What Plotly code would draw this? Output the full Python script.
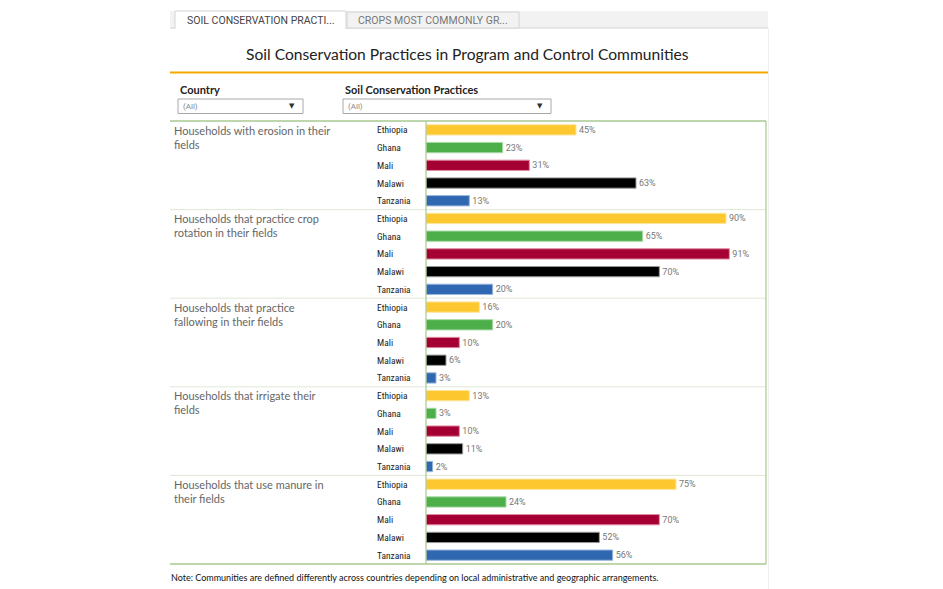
import plotly.graph_objects as go

practices = [
    "Households with erosion in their<br>fields",
    "Households that practice crop<br>rotation in their fields",
    "Households that practice<br>fallowing in their fields",
    "Households that irrigate their<br>fields",
    "Households that use manure in<br>their fields",
]
countries = ["Ethiopia", "Ghana", "Mali", "Malawi", "Tanzania"]
values = {
    "Ethiopia": [45, 90, 16, 13, 75],
    "Ghana":    [23, 65, 20, 3, 24],
    "Mali":     [31, 91, 10, 10, 70],
    "Malawi":   [63, 70, 6, 11, 52],
    "Tanzania": [13, 20, 3, 2, 56],
}
colors = {
    "Ethiopia": "#fdc82f",
    "Ghana": "#4daf4a",
    "Mali": "#a50034",
    "Malawi": "#000000",
    "Tanzania": "#2f67b1",
}
border = {
    "Ethiopia": "#fde59a",
    "Ghana": "#a8d8a6",
    "Mali": "#e08aa2",
    "Malawi": "#999999",
    "Tanzania": "#9bb6dd",
}

W, H = 943, 589
L, R, T, B = 426, 766, 121, 564
nC = len(countries)
nG = len(practices)

def px(x):
    return (x - L) / (R - L)

def py(y):
    return (B - y) / (B - T)

fig = go.Figure()
for ci, c in enumerate(countries):
    ys = [g * nC + ci for g in range(nG)]
    fig.add_trace(go.Bar(
        x=values[c], y=ys, orientation="h",
        marker=dict(color=colors[c], line=dict(color=border[c], width=1)),
        width=0.58,
        text=[f"{v}%" for v in values[c]],
        textposition="outside",
        textfont=dict(size=9, color="#777777", family="Roboto, Arial"),
        cliponaxis=False,
        showlegend=False,
        hoverinfo="skip",
    ))

shapes = []
ann = []
line_green = "#a9c98f"
sep = "#dfe9d6"

# group separators
for g in range(1, nG):
    shapes.append(dict(type="line", xref="paper", yref="y", x0=px(170), x1=1,
                       y0=g * nC - 0.5, y1=g * nC - 0.5, line=dict(color=sep, width=1)))
# top and bottom borders
shapes.append(dict(type="line", xref="paper", yref="paper", x0=px(170), x1=1, y0=1, y1=1,
                   line=dict(color=line_green, width=1.5)))
shapes.append(dict(type="line", xref="paper", yref="paper", x0=px(170), x1=1, y0=0, y1=0,
                   line=dict(color=line_green, width=1.5)))
# vertical axis lines
shapes.append(dict(type="line", xref="paper", yref="paper", x0=0, x1=0, y0=0, y1=1,
                   line=dict(color=line_green, width=1.2)))
shapes.append(dict(type="line", xref="paper", yref="paper", x0=1, x1=1, y0=0, y1=1,
                   line=dict(color=line_green, width=1.2)))
# outer faint edge
shapes.append(dict(type="line", xref="paper", yref="paper", x0=px(768.5), x1=px(768.5), y0=py(28), y1=py(589),
                   line=dict(color="#eeeeee", width=1)))

# tab strip
shapes.append(dict(type="rect", xref="paper", yref="paper", x0=px(170), x1=px(768), y0=py(28), y1=py(11),
                   fillcolor="#f2f2f2", line=dict(width=0), layer="below"))
shapes.append(dict(type="line", xref="paper", yref="paper", x0=px(170), x1=px(768), y0=py(28), y1=py(28),
                   line=dict(color="#d4d4d4", width=1)))
shapes.append(dict(type="rect", xref="paper", yref="paper", x0=px(175), x1=px(346), y0=py(28.5), y1=py(11),
                   fillcolor="#ffffff", line=dict(color="#d4d4d4", width=1)))
shapes.append(dict(type="line", xref="paper", yref="paper", x0=px(175.5), x1=px(345.5), y0=py(28.5), y1=py(28.5),
                   line=dict(color="#ffffff", width=2)))
shapes.append(dict(type="rect", xref="paper", yref="paper", x0=px(347), x1=px(519), y0=py(28), y1=py(12),
                   fillcolor="#f2f2f2", line=dict(color="#d4d4d4", width=1)))
ann.append(dict(text="SOIL CONSERVATION PRACTI...", xref="paper", yref="paper", x=px(260.5), y=py(20),
                xanchor="center", yanchor="middle", showarrow=False,
                font=dict(size=10.5, color="#444444", family="Roboto, Arial")))
ann.append(dict(text="CROPS MOST COMMONLY GR...", xref="paper", yref="paper", x=px(433), y=py(20),
                xanchor="center", yanchor="middle", showarrow=False,
                font=dict(size=10.5, color="#777777", family="Roboto, Arial")))

# title and orange rule
ann.append(dict(text="Soil Conservation Practices in Program and Control Communities", xref="paper", yref="paper",
                x=px(467), y=py(54), xanchor="center", yanchor="middle", showarrow=False,
                font=dict(size=15.6, color="#222222", family="Lato, Noto Sans")))
shapes.append(dict(type="line", xref="paper", yref="paper", x0=px(170), x1=px(768), y0=py(72.5), y1=py(72.5),
                   line=dict(color="#f5a800", width=2.2)))

# filters
for label, x0, x1 in [("Country", 178, 303), ("Soil Conservation Practices", 343, 551)]:
    ann.append(dict(text=f"<b>{label}</b>", xref="paper", yref="paper", x=px(x0), y=py(90),
                    xanchor="left", yanchor="middle", showarrow=False,
                    font=dict(size=11, color="#222222", family="Lato, Noto Sans")))
    shapes.append(dict(type="rect", xref="paper", yref="paper", x0=px(x0), x1=px(x1), y0=py(113.5), y1=py(99),
                       fillcolor="#ffffff", line=dict(color="#a8a8a8", width=1)))
    ann.append(dict(text="(All)", xref="paper", yref="paper", x=px(x0 + 3), y=py(106.5),
                    xanchor="left", yanchor="middle", showarrow=False,
                    font=dict(size=8, color="#888888", family="Roboto, Arial")))
    ann.append(dict(text="▼", xref="paper", yref="paper", x=px(x1 - 11), y=py(106),
                    xanchor="center", yanchor="middle", showarrow=False,
                    font=dict(size=7, color="#333333", family="DejaVu Sans")))

# group labels and country labels
for g, p in enumerate(practices):
    ann.append(dict(text=p, xref="paper", yref="paper", x=px(172), y=1 - (g * nC) / (nG * nC) - 0.5 / (B - T),
                    xanchor="left", yanchor="top", align="left", showarrow=False,
                    font=dict(size=11, color="#666666", family="Lato, Noto Sans")))
    for ci, c in enumerate(countries):
        ann.append(dict(text=c, xref="paper", yref="y", x=px(375), y=g * nC + ci,
                        xanchor="left", yanchor="middle", showarrow=False,
                        font=dict(size=9.5, color="#222222", family="Liberation Sans Narrow, Roboto Condensed, Roboto")))

# note
ann.append(dict(text="Note: Communities are defined differently across countries depending on local administrative and geographic arrangements.",
                xref="paper", yref="paper", x=px(169), y=py(577), xanchor="left", yanchor="middle", showarrow=False,
                font=dict(size=9, color="#111111", family="Lato, Noto Sans")))

fig.update_layout(
    width=W, height=H,
    margin=dict(l=L, r=W - R, t=T, b=H - B, pad=0),
    paper_bgcolor="white", plot_bgcolor="white",
    barmode="overlay",
    xaxis=dict(range=[0, 102], showgrid=False, zeroline=False, showticklabels=False, ticks="", fixedrange=True),
    yaxis=dict(range=[nG * nC - 0.5, -0.5], showgrid=False, zeroline=False, showticklabels=False, ticks="", fixedrange=True),
    shapes=shapes, annotations=ann,
)

fig.write_html("out.html")
